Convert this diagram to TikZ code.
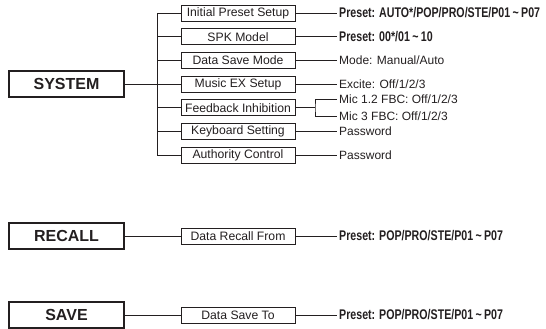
\documentclass[tikz,border=0pt]{standalone}
\usepackage{fontspec}
\setmainfont{Liberation Sans}
\newfontfamily\condfont[FakeStretch=0.76]{Liberation Sans}
\definecolor{ink}{HTML}{231F20}
\begin{document}
\begin{tikzpicture}[x=1pt,y=-1pt,
  mainbox/.style={draw=ink, line width=1.1pt, minimum width=115pt, minimum height=26pt, inner sep=0pt, text=ink, font=\fontsize{16}{16}\selectfont\bfseries},
  subbox/.style={draw=ink, line width=0.8pt, minimum width=114pt, minimum height=16pt, inner sep=0pt, text=ink, font=\fontsize{12.2}{12.2}\selectfont},
  val/.style={anchor=west, inner sep=0pt, text=ink, font=\fontsize{12}{12}\selectfont},
  valb/.style={anchor=west, inner sep=0pt, text=ink, font=\condfont\bfseries\fontsize{14}{14}\selectfont},
  conn/.style={draw=ink, line width=0.8pt}]
\useasboundingbox (0,0) rectangle (546,329);

% SYSTEM
\node[mainbox] (sys) at (66.5,84) {SYSTEM};
\coordinate (tr) at (157,84);
\node[subbox] (s1) at (238,13) {Initial Preset Setup};
\node[subbox] (s2) at (238,36.7) {SPK Model};
\node[subbox] (s3) at (238,60.3) {Data Save Mode};
\node[subbox] (s4) at (238,84) {Music EX Setup};
\node[subbox] (s5) at (238,107.7) {Feedback Inhibition};
\node[subbox] (s6) at (238,131.3) {Keyboard Setting};
\node[subbox] (s7) at (238,155) {Authority Control};

\draw[conn] (sys.east) -- (tr);
\foreach \i in {1,...,7} { \draw[conn] (s\i.west) -| (tr); }

\coordinate (v1) at (337,13);
\coordinate (v2) at (337,36.7);
\coordinate (v3) at (337,60.3);
\coordinate (v4) at (337,84);
\coordinate (b5) at (315,107.7);
\coordinate (v5a) at (337,99.3);
\coordinate (v5b) at (337,116.7);
\coordinate (v6) at (337,131.3);
\coordinate (v7) at (337,155);

\foreach \i in {1,2,3,4,6,7} { \draw[conn] (s\i.east) -- (v\i); }
\draw[conn] (s5.east) -- (b5);
\draw[conn] (v5a) -| (b5) |- (v5b);

\node[valb] (t1) at ([xshift=2pt]v1) {Preset: AUTO*/POP/PRO/STE/P01\,\raisebox{0.5pt}{\textasciitilde}\,P07};
\node[valb] (t2) at ([xshift=2pt]v2) {Preset: 00*/01\,\raisebox{0.5pt}{\textasciitilde}\,10};
\node[val] (t3) at ([xshift=2pt]v3) {Mode: Manual/Auto};
\node[val] (t4) at ([xshift=2pt]v4) {Excite: Off/1/2/3};
\node[val] (t5a) at ([xshift=2pt]v5a) {Mic 1.2 FBC: Off/1/2/3};
\node[val] (t5b) at ([xshift=2pt]v5b) {Mic 3 FBC: Off/1/2/3};
\node[val] (t6) at ([xshift=2pt]v6) {Password};
\node[val] (t7) at ([xshift=2pt]v7) {Password};

% RECALL
\node[mainbox] (rec) at (66.5,236) {RECALL};
\node[subbox] (rs) at (238,236) {Data Recall From};
\coordinate (rv) at (337,236);
\draw[conn] (rec.east) -- (rs.west);
\draw[conn] (rs.east) -- (rv);
\node[valb] (rt) at ([xshift=2pt]rv) {Preset: POP/PRO/STE/P01\,\raisebox{0.5pt}{\textasciitilde}\,P07};

% SAVE
\node[mainbox] (sav) at (66.5,315) {SAVE};
\node[subbox] (ss) at (238,315) {Data Save To};
\coordinate (sv) at (337,315);
\draw[conn] (sav.east) -- (ss.west);
\draw[conn] (ss.east) -- (sv);
\node[valb] (st) at ([xshift=2pt]sv) {Preset: POP/PRO/STE/P01\,\raisebox{0.5pt}{\textasciitilde}\,P07};
\end{tikzpicture}
\end{document}
